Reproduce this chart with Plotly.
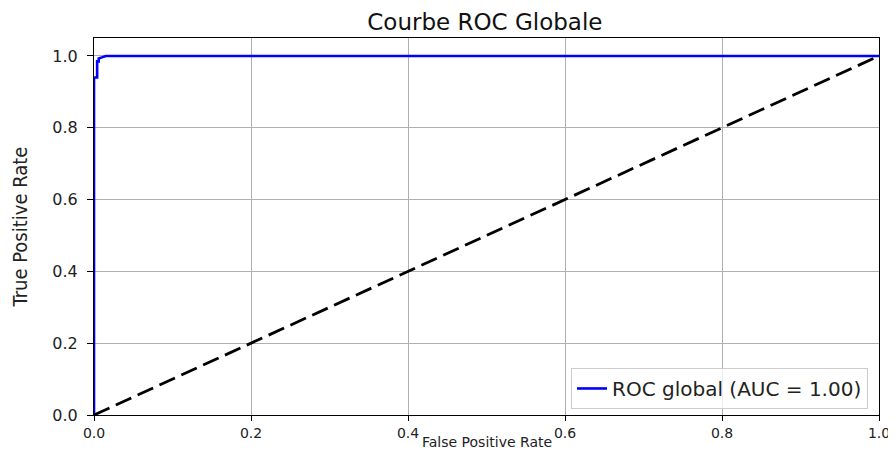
import plotly.graph_objects as go

# ROC curve points
fpr = [0.0, 0.0, 0.0, 0.004, 0.004, 0.006, 0.006, 0.010, 0.015, 0.05, 0.3, 0.6, 1.0]
tpr = [0.0, 0.90, 0.94, 0.94, 0.985, 0.985, 0.993, 0.996, 1.0, 1.0, 1.0, 1.0, 1.0]
diag_x = [0.0, 1.0]
diag_y = [0.0, 1.0]
auc_value = 1.00
tick_vals = [0.0, 0.2, 0.4, 0.6, 0.8, 1.0]
tick_text = ["0.0", "0.2", "0.4", "0.6", "0.8", "1.0"]

fig = go.Figure()
fig.add_trace(go.Scatter(
    x=fpr, y=tpr, mode="lines", name=f"ROC global (AUC = {auc_value:.2f})",
    line=dict(color="#0000ff", width=2.6),
))
fig.add_trace(go.Scatter(
    x=diag_x, y=diag_y, mode="lines", showlegend=False,
    line=dict(color="black", width=2.8, dash="17px,7px"),
))

axis_style = dict(
    showgrid=True, gridcolor="#b0b0b0", gridwidth=1.2,
    showline=True, linecolor="black", linewidth=1.2, mirror=True,
    ticks="outside", tickcolor="black", tickwidth=1.2,
    tickvals=tick_vals, ticktext=tick_text,
    zeroline=False, automargin=False, ticklabeloverflow="allow",
)
fig.update_xaxes(**axis_style, range=[0, 1], ticklen=5, ticklabelstandoff=0,
                 tickfont=dict(family="DejaVu Sans", size=14, color="#222"))
fig.update_yaxes(**axis_style, range=[0, 1.05], ticklen=6, ticklabelstandoff=6,
                 tickfont=dict(family="DejaVu Sans", size=16, color="#222"),
                 title=dict(text="True Positive Rate", standoff=24,
                            font=dict(family="DejaVu Sans Condensed", size=20, color="#222")))

# x axis title placed just under the tick labels, between 0.4 and 0.6
fig.add_annotation(text="False Positive Rate", xref="paper", yref="paper", x=0.5, y=-0.072,
                   xanchor="center", yanchor="middle", showarrow=False,
                   font=dict(family="DejaVu Sans", size=14, color="#222"))

fig.update_layout(
    width=888, height=443,
    paper_bgcolor="white", plot_bgcolor="white",
    margin=dict(l=86, r=17, t=30, b=36),
    title=dict(text="Courbe ROC Globale", x=0.537, xanchor="center", y=0.968, yanchor="middle",
               font=dict(family="DejaVu Sans", size=23, color="#111")),
    legend=dict(x=0.986, y=0.016, xanchor="right", yanchor="bottom",
                bgcolor="rgba(255,255,255,0.8)", bordercolor="#cccccc", borderwidth=1,
                font=dict(family="DejaVu Sans", size=20, color="#222")),
)

fig.write_html("out.html")
